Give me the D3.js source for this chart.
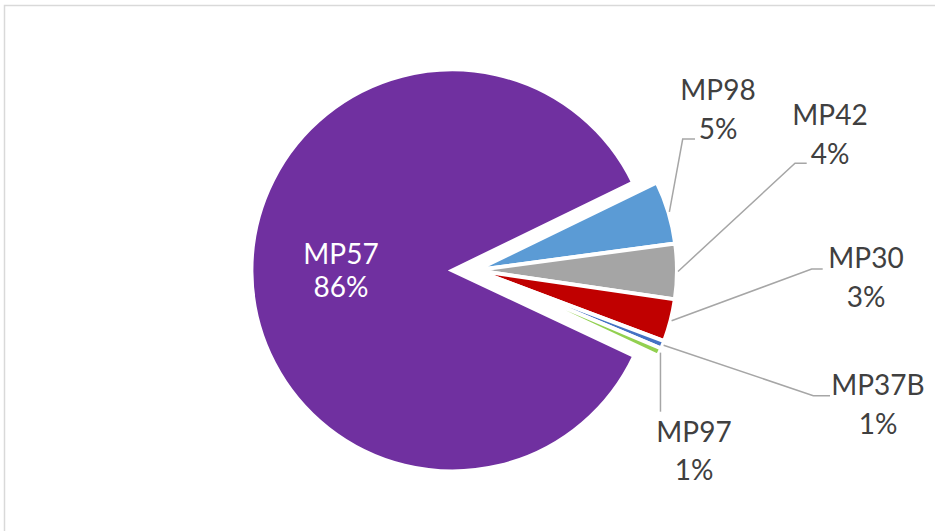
<!DOCTYPE html>
<html>
<head>
<meta charset="utf-8">
<script src="https://cdn.jsdelivr.net/npm/d3@7/dist/d3.min.js"></script>
<style>
  html, body { margin: 0; padding: 0; background: #ffffff; }
  svg { display: block; }
</style>
</head>
<body>
<svg id="chart" width="935" height="531"></svg>
<script>
// ---- data ----
const categories = ["MP57", "MP98", "MP42", "MP30", "MP37B", "MP97"];
const values     = [85.8, 5.07, 4.44, 3.42, 0.63, 0.64];
const colors     = ["#7030A0", "#5B9BD5", "#A5A5A5", "#C00000", "#4472C4", "#92D050"];
const explosion  = [23.6, 0, 0, 0, 0, 0];   // px, along slice bisector
const firstSliceAngleDeg = 115.2;

// ---- layout ----
const W = 935, H = 531;
const center = [476, 270.3];
const R = 201;
// label layout: text centre x, first baseline y, line gap, leader elbow (null = none), leader end
const labelLayout = {
  "MP57":  { x: 341, y: 264, gap: 32.5, color: "#ffffff", leader: null },
  "MP98":  { x: 718, y: 100, gap: 38.8, color: "#404040", leader: { elbow: [682.7, 139], end: [695, 139] } },
  "MP42":  { x: 830, y: 125, gap: 38.8, color: "#404040", leader: { elbow: [795, 163.3], end: [806.7, 163.3] } },
  "MP30":  { x: 866, y: 268, gap: 38.8, color: "#404040", leader: { elbow: [811.7, 269], end: [822.7, 269] } },
  "MP37B": { x: 878, y: 395, gap: 38.8, color: "#404040", leader: { elbow: [813.3, 395.7], end: [830, 395.7] } },
  "MP97":  { x: 694, y: 441.5, gap: 38.8, color: "#404040", leader: { elbow: null, end: [null, 411.7] } }
};
const fontFamily = "Lato, 'Open Sans', sans-serif";
const fontSize = 28;

const svg = d3.select("#chart");

// chart border
svg.append("rect")
  .attr("x", 4.5).attr("y", 5.5)
  .attr("width", W).attr("height", H)
  .attr("fill", "none")
  .attr("stroke", "#D9D9D9")
  .attr("stroke-width", 1.5);

const total = d3.sum(values);
const start = firstSliceAngleDeg * Math.PI / 180;
const pie = d3.pie().sort(null).value(d => d.value)
  .startAngle(start).endAngle(start + 2 * Math.PI);
const arc = d3.arc().innerRadius(0).outerRadius(R);

const data = categories.map((c, i) => ({ name: c, value: values[i], color: colors[i], explode: explosion[i] }));
const arcs = pie(data);

const g = svg.append("g").attr("transform", `translate(${center[0]},${center[1]})`);

arcs.forEach(a => {
  const mid = (a.startAngle + a.endAngle) / 2;
  a.mid = mid;
  a.off = [a.data.explode * Math.sin(mid), -a.data.explode * Math.cos(mid)];
});

g.selectAll("path.slice")
  .data(arcs)
  .join("path")
  .attr("class", "slice")
  .attr("transform", d => `translate(${d.off[0]},${d.off[1]})`)
  .attr("d", arc)
  .attr("fill", d => d.data.color)
  .attr("stroke", "#ffffff")
  .attr("stroke-width", 4)
  .attr("stroke-linejoin", "miter");

// labels
const fmt = v => Math.round(v / total * 100) + "%";

arcs.forEach(a => {
  const L = labelLayout[a.data.name];
  if (L.leader) {
    const rr = R + 1;
    const sx = center[0] + a.off[0] + rr * Math.sin(a.mid);
    const sy = center[1] + a.off[1] - rr * Math.cos(a.mid);
    let pts;
    if (L.leader.elbow) {
      pts = [[sx, sy], L.leader.elbow, L.leader.end];
    } else {
      pts = [[sx, sy], [sx, L.leader.end[1]]];
    }
    svg.append("path")
      .attr("d", d3.line()(pts))
      .attr("fill", "none")
      .attr("stroke", "#A6A6A6")
      .attr("stroke-width", 1.5);
  }
  const t = svg.append("text")
    .attr("x", L.x).attr("y", L.y)
    .attr("text-anchor", "middle")
    .attr("font-family", fontFamily)
    .attr("font-size", fontSize)
    .attr("fill", L.color);
  t.append("tspan").attr("x", L.x).attr("y", L.y).text(a.data.name);
  t.append("tspan").attr("x", L.x).attr("y", L.y + L.gap).text(fmt(a.data.value));
});
</script>
</body>
</html>
